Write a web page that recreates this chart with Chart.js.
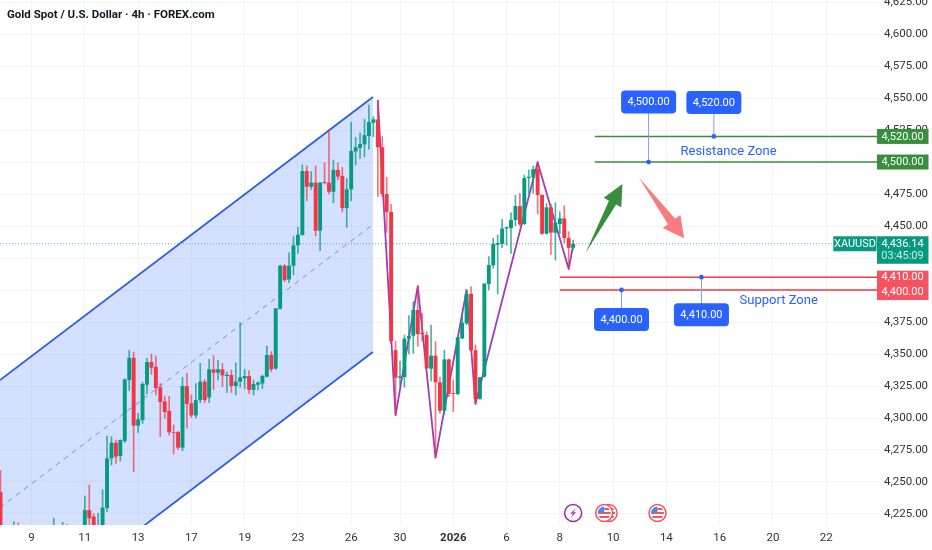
<!DOCTYPE html>
<html>
<head>
<meta charset="utf-8">
<title>Gold Spot / U.S. Dollar</title>
<script src="https://cdn.jsdelivr.net/npm/chart.js@4"></script>
<style>
    html, body { margin: 0; padding: 0; background: #fff; }
    canvas { display: block; }
</style>
</head>
<body>
<canvas id="chart" width="932" height="550"></canvas>
<script>
const titleText = 'Gold Spot / U.S. Dollar · 4h · FOREX.com';

// candles, one entry per 4h bar starting at bar 0 (bars under the axis are guessed)
const opens = [4242,4208,4203,4207,4214,4208,4205,4209,4206,4203,4207,4205,4209,4212,4207,4213,4208,4205,4203,4212,
    4228,4223,4212,4214,4229.7,4268.5,4280.7,4270.3,4282,4329.7,4347,4294,4298.4,4326,4343.7,4340,4324,4313,4305.5,4289,
    4289,4276.8,4325,4311.5,4302,4314,4328.4,4316,4338,4335.4,4338,4332.8,4333.6,4325,4328.4,4331,4332.8,4322,4326,4327,
    4332.3,4349.2,4338.6,4385.4,4419,4408.3,4419,4434.9,4443,4493,4480.7,4483.9,4446.4,4484.4,4483.9,4476.8,4493.8,4489,4464,4478.6,
    4508.3,4511,4513.8,4520.3,4530.7,4533.3,4511.5,4475,4461,4353,4331.5,4332,4362,4364.3,4384.4,4366.5,4364.8,4338.5,4348.7,4327.9,
    4305.7,4345.8,4319.5,4318.7,4362.2,4374,4397,4353,4315,4332.3,4404.7,4419.3,4435.4,4436,4448,4448.4,4454.7,4465.6,4451.6,4487.5,
    4488,4494.3,4474.2,4444,4464.6,4444.8,4451.6,4456,4440.6,4433];
const highs = [4259,4212,4210,4219,4218,4213,4212,4214,4211,4210,4213,4212,4221.6,4215,4218.5,4217,4213,4211,4213,4239,
    4247.7,4225,4225.5,4244,4286,4285.4,4283,4283,4330.5,4353,4351.6,4303.6,4327.9,4346.6,4350,4348.4,4327,4317,4317,4294.5,
    4289.5,4331.8,4334.9,4318,4327,4342.7,4330,4345.8,4348.7,4345,4342.7,4336,4337.5,4343,4374.5,4338,4337,4329.7,4328.5,4333.6,
    4356.2,4351.8,4385.7,4419.5,4420,4429,4441.7,4449,4497.7,4497,4492.5,4497,4483.9,4499.5,4525.5,4501.6,4499.5,4495.8,4487.2,4531.2,
    4519.3,4522.9,4533.3,4544.5,4535.4,4548.4,4519.8,4488,4467,4360,4344.5,4364.8,4380,4390.9,4403,4381.8,4367.4,4372.6,4359.6,4332,
    4353,4346,4329.7,4363,4381.8,4400,4402.6,4357,4332,4405,4426,4440.4,4443,4455,4449.5,4460.4,4474,4475.5,4489.8,4493.8,
    4496.9,4500.3,4474.5,4467.7,4467,4468.2,4461,4465.9,4445.6,4439];
const lows = [4205,4200,4198,4202,4204,4201,4198,4203,4199,4197,4202,4200,4204,4205,4203,4206,4201,4199,4200,4208,
    4210,4208,4208,4210,4226.8,4263.3,4264.6,4266.4,4280.7,4321.3,4258,4288.5,4295.8,4319,4334,4318,4285.4,4299.7,4286.7,4271.9,
    4275.5,4274.5,4292,4300.5,4300,4312,4312,4312,4322,4329.7,4324.5,4320,4320,4318,4324,4323,4319,4318,4322,4323,
    4332,4336,4338,4385,4406.5,4405.8,4411.7,4428.6,4442.8,4469.8,4478.6,4442.2,4430.7,4483,4475,4468,4486,4461,4449,4469.8,
    4497.7,4502.9,4504,4510,4519.8,4473,4473,4445,4358,4302,4325,4324,4350,4350.5,4356,4360,4338.5,4329,4269,4303.6,
    4303,4316.7,4305,4318,4362,4372.8,4352.5,4311,4314.6,4331.8,4400,4417,4396.9,4433,4435,4428.6,4450,4450,4451,4475.5,
    4475.5,4459.4,4443.5,4443.5,4427.9,4423.4,4444,4437,4417,4431.7];
const closes = [4208,4203,4207,4214,4208,4205,4209,4206,4203,4207,4205,4209,4212,4207,4213,4208,4205,4203,4212,4228,
    4221.6,4212,4214,4230,4268.5,4280.7,4269.8,4282.8,4330.2,4347,4294,4299,4326.6,4343.7,4339.3,4323.4,4312.5,4304.7,4288.8,4288.4,
    4276.8,4325,4311,4302,4314,4328.4,4314,4338,4335.4,4338,4333.3,4333.8,4325,4328.4,4331.8,4332.8,4322,4326.6,4327.6,4332.8,
    4349.2,4338,4385.7,4419,4407.8,4419,4434.9,4443.2,4493,4480.7,4483.9,4446.4,4483.9,4483.6,4476.8,4493.8,4488.6,4464,4478.6,4508.6,
    4511.5,4514,4521,4531.2,4533.3,4511.5,4475,4461,4360,4331.5,4332.5,4362,4364,4384.4,4365.6,4365.5,4338.8,4348.7,4327.9,4305.7,
    4345.8,4319,4318.8,4363,4374.5,4397,4353,4315,4331.8,4405,4419.5,4436,4436.7,4448,4449,4454.7,4465.6,4451.3,4487.5,4488.5,
    4494.3,4474.2,4444,4464.6,4444.8,4452.6,4456,4440.6,4433,4436.14];

// axis ticks
const priceTicks = [4225,4250,4275,4300,4325,4350,4375,4400,4425,4450,4475,4500,4525,4550,4575,4600,4625];
const tickBars = [7,19,31,43,55,67,79,90,102,114,126,138,150,162,174,186];
const tickLabels = ['9','11','13','17','19','23','26','30','2026','6','8','10','14','16','20','22'];

// drawn channel
const channelBars = [-0.1, 83.9];
const channelUpper = [4329.7, 4550.8];
const channelMiddle = [4230, 4451.2];
const channelLower = [4130.5, 4351.6];

// purple zigzag
const zigzagBars = [85,89,94,98,105,107,121,128,129];
const zigzagPrices = [4548.4,4302.3,4403.1,4269,4400,4311,4499.8,4416.4,4435];

// levels
const lastPrice = 4436.14;
const resistanceLevels = [4520, 4500];
const resistanceStart = 133.9;
const supportLevels = [4410, 4400];
const supportStart = 126;

// price callouts
const calloutBars = [146, 160.7, 139.9, 157.9];
const calloutPrices = [4500, 4520, 4400, 4410];

// arrows: tail then tip
const upArrowBars = [131.8, 140.1];
const upArrowPrices = [4428.9, 4482.8];
const downArrowBars = [143.8, 154];
const downArrowPrices = [4488, 4440.4];

// event markers along the bottom
const splitBar = 129;
const flagBars = [137, 136, 148];

const UP = '#089981', DOWN = '#f23645', BLUE = '#2962ff', FONT = 'Roboto, sans-serif';
const fmt = v => v.toLocaleString('en-US', { minimumFractionDigits: 2, maximumFractionDigits: 2 });

const wickData = opens.map((o, i) => ({ x: i, y: [lows[i], highs[i]] }));
const bodyData = opens.map((o, i) => ({ x: i, y: [Math.min(o, closes[i]), Math.max(o, closes[i])] }));
const candleColors = opens.map((o, i) => closes[i] >= o ? UP : DOWN);
const wickColors = opens.map((o, i) => closes[i] >= o ? 'rgba(8,153,129,0.75)' : 'rgba(242,54,69,0.7)');
const pairs = (xs, ys) => xs.map((x, i) => ({ x: x, y: ys[i] }));
const line = (extra) => Object.assign({ type: 'line', pointRadius: 0, borderJoinStyle: 'round', tension: 0 }, extra);

function levelData(start, price) { return [{ x: start, y: price }, { x: 198, y: price }]; }

function drawArrow(ctx, x, y, from, to, color, headLen, headHalf, neckHalf) {
    const x0 = x.getPixelForValue(from[0]), y0 = y.getPixelForValue(from[1]);
    const x1 = x.getPixelForValue(to[0]), y1 = y.getPixelForValue(to[1]);
    const len = Math.hypot(x1 - x0, y1 - y0);
    const ux = (x1 - x0) / len, uy = (y1 - y0) / len;
    const bx = x1 - ux * headLen, by = y1 - uy * headLen;
    ctx.beginPath();
    ctx.moveTo(x0, y0);
    ctx.lineTo(bx - uy * neckHalf, by + ux * neckHalf);
    ctx.lineTo(bx - uy * headHalf, by + ux * headHalf);
    ctx.lineTo(x1, y1);
    ctx.lineTo(bx + uy * headHalf, by - ux * headHalf);
    ctx.lineTo(bx + uy * neckHalf, by - ux * neckHalf);
    ctx.closePath();
    ctx.fillStyle = color;
    ctx.fill();
}

function drawFlag(ctx, cx, cy) {
    ctx.save();
    ctx.beginPath();
    ctx.arc(cx, cy, 8.5, 0, Math.PI * 2);
    ctx.fillStyle = '#fff';
    ctx.fill();
    ctx.lineWidth = 1.5;
    ctx.strokeStyle = '#f0545f';
    ctx.stroke();
    ctx.beginPath();
    ctx.arc(cx, cy, 6.5, 0, Math.PI * 2);
    ctx.clip();
    ctx.fillStyle = '#f0545f';
    ctx.fillRect(cx - 7, cy - 1, 14, 2);
    ctx.fillRect(cx - 7, cy + 3, 14, 2);
    ctx.fillRect(cx, cy - 5, 7, 2);
    ctx.fillStyle = '#4f86e8';
    ctx.fillRect(cx - 7, cy - 7, 7, 7);
    ctx.restore();
}

const overlay = {
    id: 'overlay',
    afterDraw(chart) {
        const ctx = chart.ctx, x = chart.scales.x, y = chart.scales.y;
        ctx.save();

        drawArrow(ctx, x, y, [upArrowBars[0], upArrowPrices[0]], [upArrowBars[1], upArrowPrices[1]], '#388e3c', 21, 10, 4);
        drawArrow(ctx, x, y, [downArrowBars[0], downArrowPrices[0]], [downArrowBars[1], downArrowPrices[1]], '#f77c80', 21, 11, 4.5);

        // callouts
        const shift = [-60, -34, 29.5, 37.5];
        ctx.textAlign = 'center';
        ctx.textBaseline = 'middle';
        calloutBars.forEach((bar, i) => {
            const px = x.getPixelForValue(bar), py = y.getPixelForValue(calloutPrices[i]);
            const by = py + shift[i];
            ctx.strokeStyle = '#7f9ef5';
            ctx.lineWidth = 1;
            ctx.beginPath();
            ctx.moveTo(px, py);
            ctx.lineTo(px, by);
            ctx.stroke();
            ctx.fillStyle = BLUE;
            ctx.beginPath();
            ctx.arc(px, py, 2.4, 0, Math.PI * 2);
            ctx.fill();
            ctx.beginPath();
            ctx.roundRect(px - 27.5, by - 11.5, 55, 23, 4);
            ctx.fill();
            ctx.fillStyle = '#fff';
            ctx.font = '11px ' + FONT;
            ctx.fillText(fmt(calloutPrices[i]), px, by + 0.5);
        });

        // zone names
        ctx.fillStyle = BLUE;
        ctx.font = '13px ' + FONT;
        ctx.fillText('Resistance Zone', x.getPixelForValue(164), y.getPixelForValue(4508));
        ctx.fillText('Support Zone', x.getPixelForValue(175.3), y.getPixelForValue(4391.4));

        // price scale tags
        const tag = (left, top, w, h, color) => {
            ctx.fillStyle = color;
            ctx.fillRect(left, top, w, h);
        };
        const tagText = (s, cx, cy, color) => {
            ctx.fillStyle = color || '#fff';
            ctx.fillText(s, cx, cy);
        };
        ctx.font = '11px ' + FONT;
        resistanceLevels.forEach(v => {
            const py = y.getPixelForValue(v);
            tag(877, py - 7.5, 51.5, 15, '#388e3c');
            tagText(fmt(v), 902.5, py + 0.5);
        });
        tag(877, 270.7, 51.5, 29.3, '#f7525f');
        tagText(fmt(supportLevels[0]), 902.5, y.getPixelForValue(supportLevels[0]) + 0.5);
        tagText(fmt(supportLevels[1]), 902.5, y.getPixelForValue(supportLevels[1]) + 2);
        const lastY = y.getPixelForValue(lastPrice);
        tag(877, lastY - 7.5, 51.5, 27.5, UP);
        tagText(fmt(lastPrice), 902.5, lastY + 0.5);
        tagText('03:45:09', 902.5, lastY + 12.5, '#c9ece6');
        tag(833.3, lastY - 7.5, 43.2, 15, UP);
        tagText('XAUUSD', 855, lastY + 0.5);

        // event markers
        const eventY = 513;
        flagBars.forEach(bar => drawFlag(ctx, x.getPixelForValue(bar), eventY));
        const sx = x.getPixelForValue(splitBar);
        ctx.beginPath();
        ctx.arc(sx, eventY, 8.5, 0, Math.PI * 2);
        ctx.fillStyle = '#fff';
        ctx.fill();
        ctx.lineWidth = 1.5;
        ctx.strokeStyle = '#9c27b0';
        ctx.stroke();
        ctx.beginPath();
        ctx.moveTo(sx + 2.5, eventY - 5);
        ctx.lineTo(sx - 3, eventY + 1);
        ctx.lineTo(sx, eventY + 0.5);
        ctx.lineTo(sx - 2.5, eventY + 5);
        ctx.lineTo(sx + 3, eventY - 1);
        ctx.lineTo(sx, eventY - 0.5);
        ctx.closePath();
        ctx.fillStyle = '#9c27b0';
        ctx.fill();

        // title
        ctx.textAlign = 'left';
        ctx.fillStyle = '#131722';
        ctx.font = 'bold 11.5px Roboto, sans-serif';
        ctx.fillText(titleText, 7, 15);
        ctx.restore();
    }
};

const ctx = document.getElementById('chart');
const chart = new Chart(ctx, {
    type: 'line',
    data: {
        datasets: [
            line({ data: pairs(channelBars, channelUpper), borderColor: '#2a5fe0', borderWidth: 1.8,
                backgroundColor: 'rgba(41,98,255,0.2)', fill: '+1', order: 10 }),
            line({ data: pairs(channelBars, channelLower), borderColor: '#2a5fe0', borderWidth: 1.8, order: 10 }),
            line({ data: pairs(channelBars, channelMiddle), borderColor: '#6f8fe8', borderWidth: 1, borderDash: [5, 5], order: 9 }),
            line({ data: [{ x: -0.1, y: lastPrice }, { x: 198, y: lastPrice }], borderColor: '#6aa79c', borderWidth: 1, borderDash: [1, 2], order: 8 }),
            line({ data: pairs(zigzagBars, zigzagPrices), borderColor: '#9c3fb8', borderWidth: 1.8, order: 7.5 }),
            { type: 'bar', data: wickData, backgroundColor: wickColors, grouped: false, barPercentage: 1, categoryPercentage: 1, maxBarThickness: 1, order: 7 },
            { type: 'bar', data: bodyData, backgroundColor: candleColors, grouped: false, barPercentage: 0.88, categoryPercentage: 1, order: 6 },
            line({ data: levelData(resistanceStart, resistanceLevels[0]), borderColor: '#388e3c', borderWidth: 1.4, order: 5 }),
            line({ data: levelData(resistanceStart, resistanceLevels[1]), borderColor: '#388e3c', borderWidth: 1.4, order: 5 }),
            line({ data: levelData(supportStart, supportLevels[0]), borderColor: DOWN, borderWidth: 1.4, order: 5 }),
            line({ data: levelData(supportStart, supportLevels[1]), borderColor: DOWN, borderWidth: 1.4, order: 5 })
        ]
    },
    options: {
        responsive: false,
        animation: false,
        layout: { padding: 0 },
        plugins: { legend: { display: false }, tooltip: { enabled: false } },
        scales: {
            x: {
                type: 'linear',
                min: -0.11,
                max: 197.9,
                offset: false,
                border: { display: false },
                grid: { color: '#f3f4f6', lineWidth: 1, drawTicks: false, offset: false },
                afterBuildTicks: scale => { scale.ticks = tickBars.map(v => ({ value: v })); },
                afterFit: scale => { scale.height = 25; scale.paddingLeft = 0; scale.paddingRight = 0; },
                ticks: {
                    autoSkip: false,
                    maxRotation: 0,
                    padding: 6,
                    color: '#333',
                    font: c => ({ family: FONT, size: 11.5, weight: c.tick && c.tick.value === 102 ? 'bold' : 'normal' }),
                    callback: v => tickLabels[tickBars.indexOf(v)]
                }
            },
            y: {
                type: 'linear',
                position: 'right',
                min: 4216.4,
                max: 4626.6,
                border: { display: false },
                grid: { color: '#f3f4f6', lineWidth: 1, drawTicks: false },
                afterBuildTicks: scale => { scale.ticks = priceTicks.map(v => ({ value: v })); },
                afterFit: scale => { scale.width = 53; scale.paddingTop = 0; scale.paddingBottom = 0; },
                ticks: {
                    autoSkip: false,
                    padding: 5,
                    color: '#333',
                    font: { family: FONT, size: 11.5 },
                    callback: v => fmt(v)
                }
            }
        }
    },
    plugins: [overlay]
});
</script>
</body>
</html>
